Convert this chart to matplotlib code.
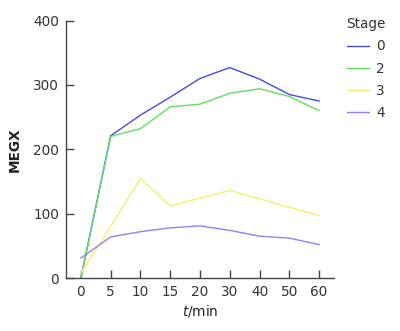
import matplotlib
matplotlib.use('Agg')
import matplotlib.pyplot as plt
import numpy as np

# time points (categorical, evenly spaced on the axis)
time_labels = ["0", "5", "10", "15", "20", "30", "40", "50", "60"]

stage_names = ["0", "2", "3", "4"]
stage0 = [0, 221, 253, 281, 310, 327, 309, 285, 275]
stage2 = [0, 220, 232, 266, 270, 287, 294, 282, 260]
stage3 = [8, 80, 155, 112, 124, 136, 123, 110, 97]
stage4 = [31, 64, 72, 78, 81, 74, 65, 62, 52]

colors = ["#4a4ae0", "#5fe05f", "#f2f06a", "#9a7ef0"]

plt.rcParams['font.family'] = ['DejaVu Sans']

fig = plt.figure(figsize=(4.0, 3.31), dpi=100)
ax = fig.add_axes([0.165, 0.16, 0.67, 0.778])

x = np.arange(len(time_labels))
for vals, name, col in zip([stage0, stage2, stage3, stage4], stage_names, colors):
	ax.plot(x, vals, color=col, lw=1.0, label=name)

ax.set_xlim(-0.5, 8.5)
ax.set_ylim(0, 400)
ax.set_xticks(x)
ax.set_xticklabels(time_labels)
ax.set_yticks([0, 100, 200, 300, 400])

for s in ['top', 'right']:
	ax.spines[s].set_visible(False)
for s in ['left', 'bottom']:
	ax.spines[s].set_color('#444444')
	ax.spines[s].set_linewidth(1.0)

ax.tick_params(direction='in', length=6, width=1, colors='#444444', labelcolor='#333333', labelsize=9.8, pad=5)

ax.set_ylabel('MEGX', fontsize=9.8, fontweight='bold', color='#222222', labelpad=8)
ax.set_xlabel(r'$\it{t}$/min', fontsize=9.8, color='#222222', labelpad=3)

leg = ax.legend(title='Stage', loc='upper left', bbox_to_anchor=(1.0, 1.06), frameon=False,
	fontsize=9.8, title_fontsize=9.8, handlelength=1.6, labelspacing=0.6, handletextpad=0.5)
for t in leg.get_texts():
	t.set_color('#333333')
leg.get_title().set_color('#333333')

fig.savefig('out.png', dpi=100)
